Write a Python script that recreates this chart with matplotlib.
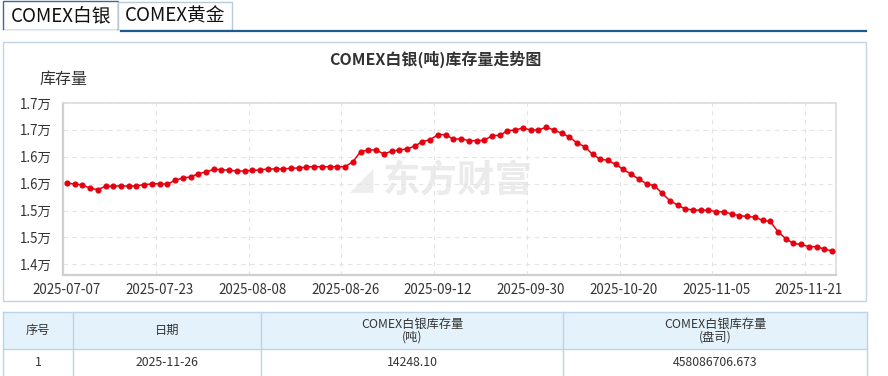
import matplotlib
matplotlib.use("Agg")
import matplotlib.pyplot as plt
from matplotlib.patches import Rectangle
import numpy as np

plt.rcParams['font.family'] = ['Noto Sans CJK SC', 'DejaVu Sans']

# COMEX silver inventory (tonnes), one value per trading day
stock = [15507, 15494, 15475, 15414, 15388, 15451, 15451, 15462, 15451, 15462,
         15481, 15494, 15499, 15488, 15562, 15605, 15624, 15685, 15717, 15767,
         15760, 15748, 15735, 15735, 15748, 15754, 15773, 15773, 15773, 15786,
         15791, 15810, 15815, 15815, 15815, 15815, 15815, 15908, 16094, 16126,
         16126, 16052, 16102, 16126, 16145, 16200, 16280, 16318, 16411, 16411,
         16325, 16336, 16299, 16299, 16306, 16392, 16399, 16485, 16498, 16535,
         16498, 16498, 16548, 16498, 16437, 16368, 16256, 16187, 16046, 15953,
         15934, 15856, 15763, 15676, 15583, 15497, 15462, 15322, 15183, 15103,
         15029, 15010, 15006, 15006, 14978, 14976, 14936, 14904, 14889, 14876,
         14818, 14796, 14605, 14476, 14387, 14368, 14327, 14327, 14281, 14248]
date_labels = ['2025-07-07', '2025-07-23', '2025-08-08', '2025-08-26', '2025-09-12',
               '2025-09-30', '2025-10-20', '2025-11-05', '2025-11-21']
label_step = 12
y_ticks = [14000, 14500, 15000, 15500, 16000, 16500, 17000]
y_labels = ['1.4万', '1.5万', '1.5万', '1.6万', '1.6万', '1.7万', '1.7万']

tabs = ['COMEX白银', 'COMEX黄金']
table_header = ['序号', '日期', 'COMEX白银库存量\n(吨)', 'COMEX白银库存量\n(盘司)']
table_row = ['1', '2025-11-26', '14248.10', '458086706.673']

W, H = 888, 376
fig = plt.figure(figsize=(W / 100, H / 100), dpi=100)

# page layer in pixel coordinates
bg = fig.add_axes([0, 0, 1, 1])
bg.set_xlim(0, W)
bg.set_ylim(H, 0)
bg.axis('off')

# tabs
bg.add_patch(Rectangle((3, 1), 115, 29, facecolor='white', edgecolor='#3d6a93', lw=1))
bg.add_patch(Rectangle((118, 2), 114, 28, facecolor='white', edgecolor='#b8cbdb', lw=1))
bg.plot([118, 866], [30.5, 30.5], color='#1f5a8f', lw=1.6)
bg.plot([3.5, 117.5], [30.5, 30.5], color='white', lw=2)
bg.text(61, 16, tabs[0], ha='center', va='center', fontsize=13.5, color='#111111')
bg.text(175, 16, tabs[1], ha='center', va='center', fontsize=13.5, color='#111111')

# chart panel
bg.add_patch(Rectangle((3, 42), 863, 259, facecolor='white', edgecolor='#c3d5e3', lw=1))
bg.text(435, 59, 'COMEX白银(吨)库存量走势图', ha='center', va='center',
        fontsize=11.5, fontweight='bold', color='#333333')
bg.text(63, 79, '库存量', ha='center', va='center', fontsize=11.5, color='#333333')

# watermark
bg.text(458, 181, '东方财富', ha='center', va='center', fontsize=27,
        fontweight='bold', color='#ebebeb', zorder=1)
bg.text(362, 181, '◢', ha='center', va='center', fontsize=22,
        color='#ededed', zorder=1, family=['DejaVu Sans'])

# table
col_edges = [3, 73, 261, 563, 867]
bg.add_patch(Rectangle((3, 312), 864, 37, facecolor='#e4f2fb', edgecolor='none'))
for y in [312, 349]:
    bg.plot([3, 867], [y, y], color='#bcd4e4', lw=1)
for x in col_edges:
    bg.plot([x, x], [312, 376], color='#bcd4e4', lw=1)
for i in range(4):
    cx = (col_edges[i] + col_edges[i + 1]) / 2
    bg.text(cx, 330.5, table_header[i], ha='center', va='center', fontsize=8.8,
            color='#333333', linespacing=0.95)
    bg.text(cx, 362, table_row[i], ha='center', va='center', fontsize=8.8, color='#333333')

# chart
left, right, top, bottom = 63, 836, 103, 275
ax = fig.add_axes([left / W, 1 - bottom / H, (right - left) / W, (bottom - top) / H])
ax.patch.set_alpha(0)
x = np.arange(len(stock))
ax.plot(x, stock, color='#e6000f', lw=1.1, marker='o', markersize=3.4, zorder=3)
ax.set_xlim(-0.5, len(stock) - 0.5)
ax.set_ylim(13800, 17000)
ax.set_yticks(y_ticks)
ax.set_yticklabels(y_labels)
ax.set_xticks(np.arange(0, len(stock), label_step))
ax.set_xticklabels(date_labels)
ax.set_xticks(np.arange(label_step - 0.5, len(stock), label_step), minor=True)
ax.tick_params(axis='both', which='both', length=0, labelsize=9.6, colors='#333333')
ax.tick_params(axis='x', pad=6)
ax.tick_params(axis='y', pad=8)
ax.grid(axis='y', which='major', color='#e4e4e4', lw=0.8, ls=(0, (4, 4)))
ax.grid(axis='x', which='minor', color='#e4e4e4', lw=0.8, ls=(0, (4, 4)))
for s in ax.spines.values():
    s.set_color('#dcdcdc')
    s.set_linewidth(1.2)
ax.spines['left'].set_color('#cfcfcf')
ax.spines['bottom'].set_color('#cfcfcf')
ax.spines['left'].set_linewidth(1.6)
ax.spines['bottom'].set_linewidth(1.6)

fig.savefig('out.png', dpi=100)
